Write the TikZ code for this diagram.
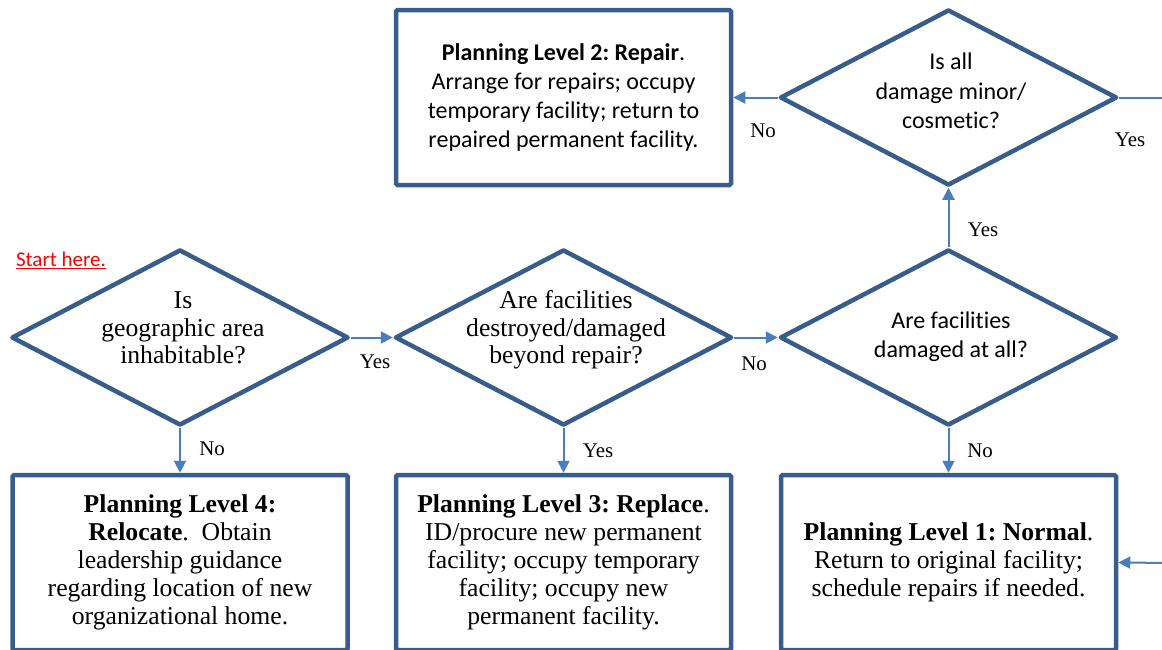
\documentclass[tikz,border=0pt]{standalone}
\usepackage{fontspec}
\setmainfont{Liberation Serif}[Scale=1.07]
\newfontfamily\calfont{Carlito}[Ligatures=NoCommon]
\usetikzlibrary{shapes.geometric,arrows.meta}
\definecolor{bord}{RGB}{56,93,138}
\definecolor{arr}{RGB}{74,126,187}
\definecolor{startred}{RGB}{255,0,0}
\frenchspacing
\begin{document}
\begin{tikzpicture}[x=1pt,y=-1pt,
  box/.style={draw=bord, line width=4.5pt, fill=white, rounded corners=1.5pt,
    minimum width=335pt, minimum height=175pt, inner sep=0pt, align=center,
    font=\fontsize{24}{28.1}\selectfont},
  calbox/.style={box, font=\calfont\fontsize{24}{29.3}\selectfont},
  dia/.style={diamond, draw=bord, line width=4.5pt, line join=round,
    minimum width=337pt, minimum height=176pt, inner sep=0pt},
  dtext/.style={align=center, inner sep=0pt, font=\fontsize{24}{27.5}\selectfont},
  caltext/.style={align=center, inner sep=0pt, font=\calfont\fontsize{24}{29.3}\selectfont},
  flow/.style={draw=arr, line width=2pt, -{Triangle[length=12pt,width=12pt]}},
  plain/.style={draw=arr, line width=2pt},
  lab/.style={inner sep=0pt, font=\fontsize{19.5}{22}\selectfont}]
\useasboundingbox (0,0) rectangle (1162,649);
\clip (0,0) rectangle (1162,649);

% top row
\node[calbox] (l2) at (563.5,97.5) {\textbf{Planning Level 2: Repair}.\\Arrange for repairs; occupy\\temporary facility; return to\\repaired permanent facility.};
\node[dia] (q5) at (948.5,97.5) {};
\node[caltext] (t5) at (951,91) {Is all\\damage minor/\\cosmetic?};

% middle row
\node[dia] (q1) at (180,337.5) {};
\node[dtext] (t1) at (183,328) {Is\\geographic area\\inhabitable?};
\node[dia] (q2) at (563.5,337.5) {};
\node[dtext] (t2) at (566,330) {Are facilities\\destroyed/damaged\\beyond repair?};
\node[dia] (q3) at (948.5,337.5) {};
\node[caltext] (t3) at (951,337) {Are facilities\\damaged at all?};

% bottom row
\node[box] (l4) at (180,562.5) {\textbf{Planning Level 4:}\\\textbf{Relocate}.\ \ Obtain\\leadership guidance\\regarding location of new\\organizational home.};
\node[box] (l3) at (563.5,562.5) {\textbf{Planning Level 3: Replace}.\\ID/procure new permanent\\facility; occupy temporary\\facility; occupy new\\permanent facility.};
\node[box] (l1) at (948.5,562.5) {\textbf{Planning Level 1: Normal}.\\Return to original facility;\\schedule repairs if needed.};

\node[inner sep=0pt, text=startred, font=\calfont\fontsize{21}{24}\selectfont] (start) at (61,260) {\underline{Start here.}};

% free ends beyond the right edge
\coordinate (e1) at (1175,97.5);
\coordinate (e2) at (1175,563);

% connectors
\draw[flow] (q1.east) -- (q2.west);
\draw[flow] (q2.east) -- (q3.west);
\draw[flow] (q1.south) -- (l4.north);
\draw[flow] (q2.south) -- (l3.north);
\draw[flow] (q3.south) -- (l1.north);
\draw[flow] (q3.north) -- (q5.south);
\draw[flow] (q5.west) -- (l2.east);
\draw[plain] (q5.east) -- (e1);
\draw[flow] (e2) -- (l1.east);

% labels
\node[lab] (a1) at (375,362) {Yes};
\node[lab] (a2) at (754,364) {No};
\node[lab] (a3) at (212,449) {No};
\node[lab] (a4) at (598,451) {Yes};
\node[lab] (a5) at (980,451) {No};
\node[lab] (a6) at (983,230) {Yes};
\node[lab] (a7) at (763,131) {No};
\node[lab] (a8) at (1130,140) {Yes};
\end{tikzpicture}
\end{document}
